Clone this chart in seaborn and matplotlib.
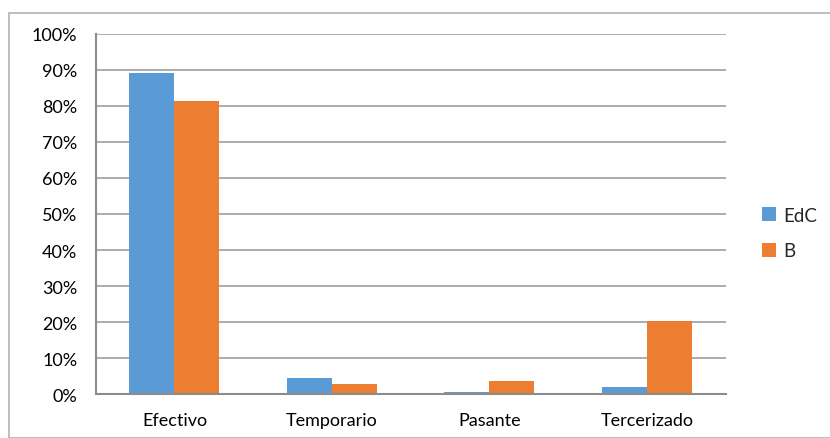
import matplotlib
matplotlib.use("Agg")
import matplotlib.pyplot as plt
from matplotlib.patches import Rectangle
from matplotlib.ticker import PercentFormatter, FixedLocator
import seaborn as sns
import pandas as pd

# Share of staff by contract type for each group
categories = ["Efectivo", "Temporario", "Pasante", "Tercerizado"]
edc_values = [0.89, 0.045, 0.0055, 0.021]
b_values = [0.814, 0.028, 0.036, 0.202]
series_names = ["EdC", "B"]
palette = ["#5B9BD5", "#ED7D31"]

df = pd.DataFrame({
    "categoria": categories * 2,
    "valor": edc_values + b_values,
    "serie": [series_names[0]] * len(categories) + [series_names[1]] * len(categories),
})

sns.set_theme(style="white")
plt.rcParams["font.family"] = ["Lato", "DejaVu Sans"]

W, H = 830, 439
fig = plt.figure(figsize=(W / 100, H / 100), dpi=100)
ax = fig.add_axes([95.7 / W, 1 - 395.3 / H, (725.7 - 95.7) / W, (395.3 - 34.7) / H])

sns.barplot(data=df, x="categoria", y="valor", hue="serie", order=categories,
            hue_order=series_names, palette=palette, width=0.571, gap=0,
            saturation=1, linewidth=0, ax=ax, legend=True)

grid_color = "#a6a6a6"
axis_color = "#8c8c8c"

ax.set_ylim(0, 1)
ax.set_xlim(-0.5, len(categories) - 0.5)
ax.set_yticks([i / 10 for i in range(11)])
ax.yaxis.set_major_formatter(PercentFormatter(1.0, decimals=0))
ax.set_xlabel("")
ax.set_ylabel("")

for y in [i / 10 for i in range(1, 11)]:
    ax.axhline(y, color=grid_color, lw=1.3, zorder=0)

for side in ["top", "right"]:
    ax.spines[side].set_visible(False)
for side in ["left", "bottom"]:
    ax.spines[side].set_color(axis_color)
    ax.spines[side].set_linewidth(1.5)

ax.tick_params(axis="y", which="major", direction="out", length=4.3, width=1.2,
               color=axis_color, pad=9, labelsize=13, labelcolor="#000000")
ax.tick_params(axis="x", which="major", length=0, pad=13, labelsize=13,
               labelcolor="#000000")
ax.xaxis.set_minor_locator(FixedLocator([i - 0.5 for i in range(len(categories) + 1)]))
ax.tick_params(axis="x", which="minor", direction="out", length=4.3, width=1.2,
               color=axis_color)

leg = ax.legend(loc="center left", bbox_to_anchor=(1.045, 0.447), frameon=False,
                fontsize=13.5, handlelength=0.75, handleheight=0.75,
                handletextpad=0.4, labelspacing=1.0, borderaxespad=0)

# Outer chart border
fig.patches.append(Rectangle((9 / W, 0), 1.0, 1 - 14 / H, transform=fig.transFigure,
                             fill=False, edgecolor="#b3b3b3", lw=1.2))

fig.savefig("out.png", dpi=100)
